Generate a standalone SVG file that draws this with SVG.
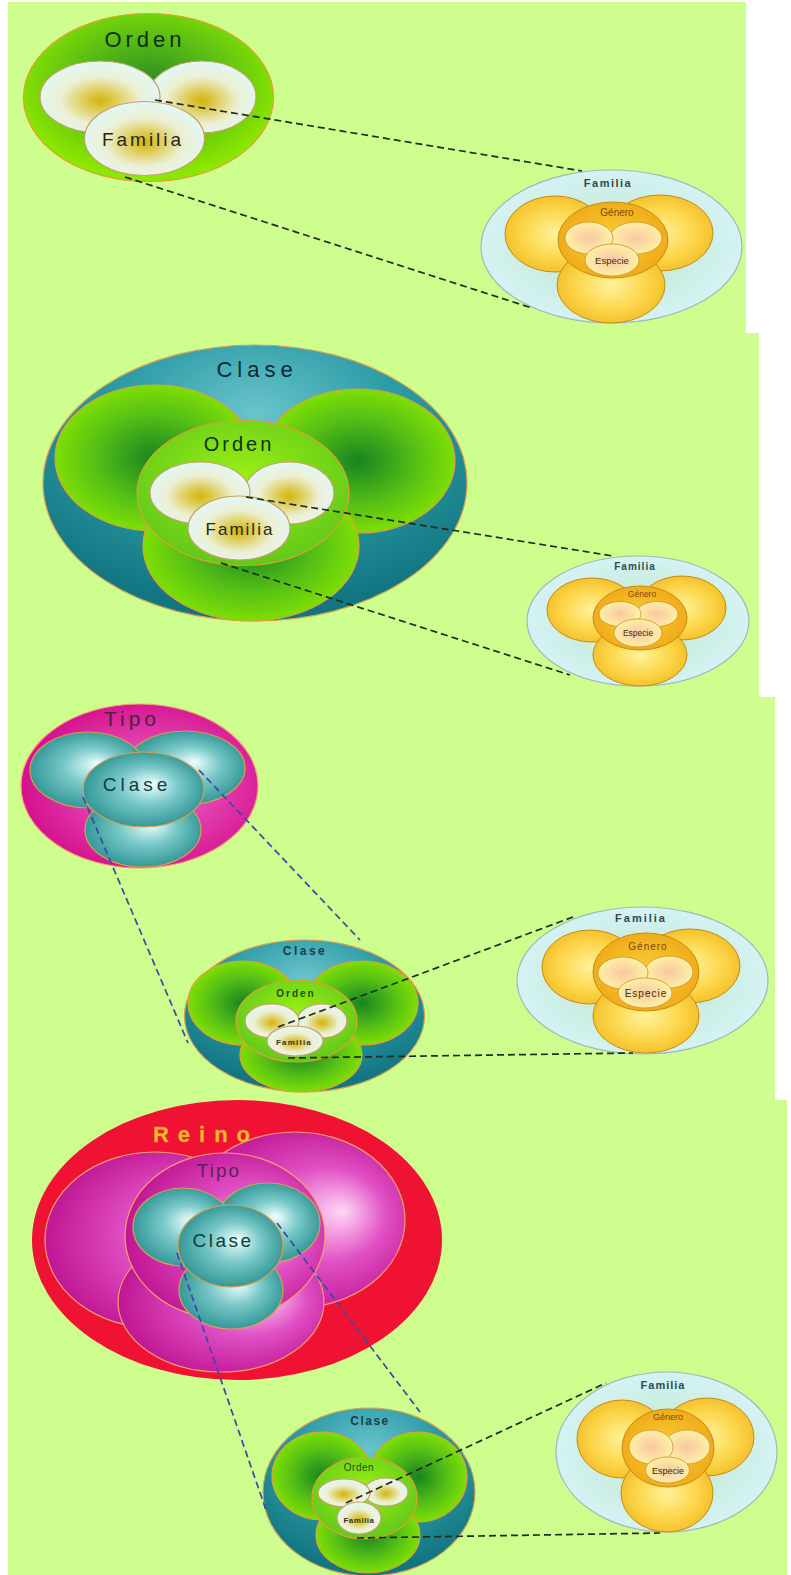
<svg xmlns="http://www.w3.org/2000/svg" width="791" height="1575" viewBox="0 0 791 1575">
<defs>
<radialGradient id="gLime" cx="50%" cy="42%" r="55%"><stop offset="0" stop-color="#2a8c22"/><stop offset="0.5" stop-color="#58bc14"/><stop offset="1" stop-color="#8ce800"/></radialGradient>
<radialGradient id="gLobe" cx="50%" cy="50%" r="55%"><stop offset="0" stop-color="#178420"/><stop offset="0.55" stop-color="#56c016"/><stop offset="1" stop-color="#88e600"/></radialGradient>
<radialGradient id="gOrden" cx="50%" cy="40%" r="60%"><stop offset="0" stop-color="#9af014"/><stop offset="1" stop-color="#62c81a"/></radialGradient>
<radialGradient id="gPale" cx="50%" cy="55%" r="55%"><stop offset="0" stop-color="#d4b410"/><stop offset="0.2" stop-color="#dcc848"/><stop offset="0.6" stop-color="#ecf0d4"/><stop offset="1" stop-color="#e2f8f8"/></radialGradient>
<radialGradient id="gTealOuter" cx="50%" cy="25%" r="70%"><stop offset="0" stop-color="#6ac4cc"/><stop offset="0.5" stop-color="#2a9aa4"/><stop offset="1" stop-color="#127682"/></radialGradient>
<radialGradient id="gTealLobe" cx="50%" cy="50%" r="55%" fx="58%" fy="42%"><stop offset="0" stop-color="#f0ffff"/><stop offset="0.45" stop-color="#78c8c8"/><stop offset="1" stop-color="#2a9090"/></radialGradient>
<radialGradient id="gMagOuter" cx="55%" cy="50%" r="55%"><stop offset="0" stop-color="#f070d0"/><stop offset="1" stop-color="#d4108c"/></radialGradient>
<radialGradient id="gMagLobe" cx="55%" cy="50%" r="60%" fx="72%" fy="45%"><stop offset="0" stop-color="#ffd6f6"/><stop offset="0.45" stop-color="#e050c4"/><stop offset="1" stop-color="#bc0e8c"/></radialGradient>
<radialGradient id="gFam" cx="50%" cy="50%" r="55%"><stop offset="0" stop-color="#bfeeb0"/><stop offset="0.6" stop-color="#cdeee4"/><stop offset="1" stop-color="#d6f4f8"/></radialGradient>
<radialGradient id="gYel" cx="50%" cy="50%" r="55%"><stop offset="0" stop-color="#fff29a"/><stop offset="0.6" stop-color="#fcd64a"/><stop offset="1" stop-color="#f2bc26"/></radialGradient>
<radialGradient id="gGen" cx="50%" cy="50%" r="55%"><stop offset="0" stop-color="#fbd038"/><stop offset="1" stop-color="#efa818"/></radialGradient>
<radialGradient id="gYin" cx="50%" cy="50%" r="55%"><stop offset="0" stop-color="#f9c8a0"/><stop offset="1" stop-color="#fff4a8"/></radialGradient>
</defs>
<style>
.bg{fill:#cdfe8e}
.t{font-family:"Liberation Sans",Arial,sans-serif;text-anchor:middle}
.gr{stroke:#e0a030;stroke-width:1.2}
.tl{stroke:#d8a050;stroke-width:1.2}
.mg{stroke:#f0a070;stroke-width:1.2}
.pale{fill:url(#gPale);stroke:#c8a060;stroke-width:1.2}
.fam{fill:url(#gFam);stroke:#a0b8bc;stroke-width:1.2}
.yel{fill:url(#gYel);stroke:#c88a10;stroke-width:1}
.gen{fill:url(#gGen);stroke:#c88a10;stroke-width:1}
.yin{fill:url(#gYin);stroke:#d09020;stroke-width:0.8}
.dk{fill:none;stroke:#1e2e1e;stroke-width:1.7;stroke-dasharray:7 4}
.bl{fill:none;stroke:#3a48a8;stroke-width:1.7;stroke-dasharray:7 4}
.lf{fill:#304858;font-weight:bold}
.lg{fill:#7a4a08}
.le{fill:#4a2a08}
</style>
<rect x="0" y="0" width="791" height="1575" fill="#ffffff"/>
<rect class="bg" x="8" y="2" width="738" height="331"/>
<rect class="bg" x="8" y="333" width="751" height="364"/>
<rect class="bg" x="8" y="697" width="767" height="403"/>
<rect class="bg" x="8" y="1100" width="779" height="475"/>

<!-- Panel 1 -->
<g id="orden1">
<ellipse cx="148.5" cy="97.5" rx="125" ry="84" fill="url(#gLime)" class="gr"/>
<ellipse cx="202" cy="97" rx="54" ry="36" class="pale"/>
<ellipse cx="100" cy="97" rx="60" ry="36" class="pale"/>
<ellipse cx="144.5" cy="138.5" rx="60" ry="37" class="pale"/>
<text class="t" x="145" y="47" font-size="22" letter-spacing="4" fill="#103010">Orden</text>
<text class="t" x="143" y="146" font-size="19" letter-spacing="3" fill="#202820">Familia</text>
</g>
<g id="familia1">
<ellipse cx="611.5" cy="246.5" rx="130.5" ry="76.5" class="fam"/>
<ellipse cx="555" cy="234" rx="50" ry="38" class="yel"/>
<ellipse cx="660" cy="233" rx="53" ry="38" class="yel"/>
<ellipse cx="611" cy="285" rx="54" ry="38" class="yel"/>
<ellipse cx="613" cy="240" rx="55" ry="38" class="gen"/>
<ellipse cx="636" cy="238" rx="26" ry="16" class="yin"/>
<ellipse cx="589" cy="238" rx="24" ry="16" class="yin"/>
<ellipse cx="612" cy="260" rx="27" ry="16" class="yin"/>
<text class="t lf" x="608" y="187" font-size="11" letter-spacing="1.5">Familia</text>
<text class="t lg" x="617" y="216" font-size="10">Género</text>
<text class="t le" x="612" y="264" font-size="9.5">Especie</text>
</g>

<!-- Panel 2 -->
<g id="clase2">
<ellipse cx="255" cy="483" rx="212" ry="138" fill="url(#gTealOuter)" class="tl"/>
<ellipse cx="358" cy="461" rx="97" ry="72" fill="url(#gLobe)" class="gr"/>
<ellipse cx="155" cy="458" rx="100" ry="73" fill="url(#gLobe)" class="gr"/>
<ellipse cx="251" cy="546" rx="108" ry="75" fill="url(#gLobe)" class="gr"/>
<ellipse cx="243" cy="493" rx="106" ry="72.5" fill="url(#gOrden)" class="gr"/>
<ellipse cx="289" cy="493" rx="45" ry="31" class="pale"/>
<ellipse cx="200" cy="493" rx="50" ry="31" class="pale"/>
<ellipse cx="239" cy="528" rx="51" ry="32" class="pale"/>
<text class="t" x="257" y="377" font-size="22" letter-spacing="5" fill="#0e2a30">Clase</text>
<text class="t" x="239" y="451" font-size="20" letter-spacing="3" fill="#103010">Orden</text>
<text class="t" x="240" y="535" font-size="17" letter-spacing="2" fill="#202820">Familia</text>
</g>
<g id="familia2">
<ellipse cx="638" cy="621" rx="111" ry="65" class="fam"/>
<ellipse cx="592" cy="610" rx="45" ry="32" class="yel"/>
<ellipse cx="682" cy="608" rx="44" ry="32" class="yel"/>
<ellipse cx="640" cy="655" rx="47" ry="31" class="yel"/>
<ellipse cx="640" cy="618" rx="47" ry="32" class="gen"/>
<ellipse cx="657" cy="614" rx="21" ry="12.5" class="yin"/>
<ellipse cx="620" cy="614" rx="21" ry="12.5" class="yin"/>
<ellipse cx="638" cy="633" rx="24" ry="14" class="yin"/>
<text class="t lf" x="635" y="570" font-size="10" letter-spacing="1">Familia</text>
<text class="t lg" x="642" y="597" font-size="8.5">Género</text>
<text class="t le" x="638" y="636" font-size="8.5">Especie</text>
</g>

<!-- Panel 3 -->
<g id="tipo3">
<ellipse cx="139.5" cy="786" rx="118.5" ry="82" fill="url(#gMagOuter)" class="mg"/>
<ellipse cx="185" cy="768" rx="60" ry="37" fill="url(#gTealLobe)" class="tl"/>
<ellipse cx="88" cy="770" rx="58" ry="38" fill="url(#gTealLobe)" class="tl"/>
<ellipse cx="143" cy="830" rx="58" ry="37" fill="url(#gTealLobe)" class="tl"/>
<ellipse cx="143.5" cy="789.5" rx="60.5" ry="37.5" fill="url(#gTealLobe)" class="tl"/>
<text class="t" x="132" y="726" font-size="21" letter-spacing="4" fill="#502040">Tipo</text>
<text class="t" x="137" y="791" font-size="19" letter-spacing="4" fill="#103c40">Clase</text>
</g>
<g id="clase3">
<ellipse cx="304.5" cy="1016" rx="120" ry="76" fill="url(#gTealOuter)" class="tl"/>
<ellipse cx="362" cy="1003" rx="56" ry="42" fill="url(#gLobe)" class="gr"/>
<ellipse cx="243" cy="1003" rx="55" ry="42" fill="url(#gLobe)" class="gr"/>
<ellipse cx="301" cy="1055" rx="61" ry="37" fill="url(#gLobe)" class="gr"/>
<ellipse cx="296.5" cy="1021" rx="60.5" ry="41" fill="url(#gOrden)" class="gr"/>
<ellipse cx="322" cy="1021" rx="25" ry="17" class="pale"/>
<ellipse cx="272" cy="1021" rx="27" ry="17" class="pale"/>
<ellipse cx="295" cy="1041" rx="28" ry="15" class="pale"/>
<text class="t" x="305" y="955" font-size="12" font-weight="bold" letter-spacing="2.5" fill="#1c3c4a">Clase</text>
<text class="t" x="296" y="997" font-size="10" font-weight="bold" letter-spacing="2" fill="#1c5010">Orden</text>
<text class="t" x="294" y="1045" font-size="8" font-weight="bold" letter-spacing="1.2" fill="#303828">Familia</text>
</g>
<g id="familia3">
<ellipse cx="642.5" cy="980.5" rx="125.5" ry="73.5" class="fam"/>
<ellipse cx="590" cy="967" rx="48" ry="37" class="yel"/>
<ellipse cx="690" cy="966" rx="50" ry="37" class="yel"/>
<ellipse cx="646" cy="1016" rx="53" ry="37" class="yel"/>
<ellipse cx="646" cy="972" rx="53" ry="39" class="gen"/>
<ellipse cx="669" cy="972" rx="24" ry="16" class="yin"/>
<ellipse cx="623" cy="973" rx="25" ry="16" class="yin"/>
<ellipse cx="645" cy="993" rx="27" ry="15" class="yin"/>
<text class="t lf" x="641" y="922" font-size="11" letter-spacing="2">Familia</text>
<text class="t lg" x="648" y="950" font-size="10" letter-spacing="1">Género</text>
<text class="t le" x="646" y="997" font-size="10" letter-spacing="1">Especie</text>
</g>

<!-- Panel 4 -->
<g id="reino4">
<ellipse cx="237" cy="1240" rx="205" ry="140" fill="#f01232"/>
<ellipse cx="295" cy="1220" rx="110" ry="88" fill="url(#gMagLobe)" class="mg"/>
<ellipse cx="155" cy="1240" rx="110" ry="88" fill="url(#gMagLobe)" class="mg"/>
<ellipse cx="221" cy="1302" rx="103" ry="70" fill="url(#gMagLobe)" class="mg"/>
<ellipse cx="225" cy="1236" rx="100" ry="83" fill="url(#gMagLobe)" class="mg"/>
<ellipse cx="268" cy="1223" rx="52" ry="40" fill="url(#gTealLobe)" class="tl"/>
<ellipse cx="183" cy="1227" rx="50" ry="39" fill="url(#gTealLobe)" class="tl"/>
<ellipse cx="231" cy="1290" rx="52" ry="39" fill="url(#gTealLobe)" class="tl"/>
<ellipse cx="230.5" cy="1246" rx="52.5" ry="41" fill="url(#gTealLobe)" class="tl"/>
<text class="t" x="206" y="1142" font-size="22" font-weight="bold" letter-spacing="9" fill="#f8bc30" stroke="#e09020" stroke-width="0.4">Reino</text>
<text class="t" x="219" y="1177" font-size="19" letter-spacing="2" fill="#602060">Tipo</text>
<text class="t" x="223" y="1247" font-size="19" letter-spacing="2.5" fill="#103c40">Clase</text>
</g>
<g id="clase4">
<ellipse cx="369" cy="1492" rx="106" ry="84" fill="url(#gTealOuter)" class="tl"/>
<ellipse cx="418" cy="1477" rx="49" ry="45" fill="url(#gLobe)" class="gr"/>
<ellipse cx="322" cy="1476" rx="50" ry="44" fill="url(#gLobe)" class="gr"/>
<ellipse cx="368" cy="1535" rx="52" ry="38" fill="url(#gLobe)" class="gr"/>
<ellipse cx="364.5" cy="1498" rx="52.5" ry="41" fill="url(#gOrden)" class="gr"/>
<ellipse cx="386" cy="1492" rx="22" ry="14" class="pale"/>
<ellipse cx="344" cy="1493" rx="26" ry="14" class="pale"/>
<ellipse cx="359" cy="1518" rx="22" ry="16" class="pale"/>
<text class="t" x="370" y="1425" font-size="12" font-weight="bold" letter-spacing="1.5" fill="#1c3c4a">Clase</text>
<text class="t" x="359" y="1471" font-size="10" letter-spacing="0.5" fill="#1c5010">Orden</text>
<text class="t" x="359" y="1523" font-size="8" font-weight="bold" letter-spacing="0.5" fill="#303828">Familia</text>
</g>
<g id="familia4">
<ellipse cx="666.5" cy="1452" rx="110.5" ry="80" class="fam"/>
<ellipse cx="622" cy="1439" rx="45" ry="39" class="yel"/>
<ellipse cx="707" cy="1437" rx="47" ry="39" class="yel"/>
<ellipse cx="667" cy="1493" rx="46" ry="39" class="yel"/>
<ellipse cx="668" cy="1448" rx="46" ry="39" class="gen"/>
<ellipse cx="687" cy="1447" rx="23" ry="17" class="yin"/>
<ellipse cx="651" cy="1447" rx="22" ry="17" class="yin"/>
<ellipse cx="667.5" cy="1470" rx="22" ry="13" class="yin"/>
<text class="t lf" x="663" y="1389" font-size="11" letter-spacing="1">Familia</text>
<text class="t lg" x="668" y="1420" font-size="9">Género</text>
<text class="t le" x="668" y="1474" font-size="9">Especie</text>
</g>

<g id="connectors">
<path class="dk" d="M155,100 L582,171"/>
<path class="dk" d="M125,177 L532,308"/>
<path class="dk" d="M246,497 L613,556"/>
<path class="dk" d="M221,563 L570,675"/>
<path class="bl" d="M199,770 L360,940"/>
<path class="bl" d="M83,797 L188,1043"/>
<path class="dk" d="M278,1027 L573,917"/>
<path class="dk" d="M288,1058 L633,1053"/>
<path class="bl" d="M277,1223 L420,1412"/>
<path class="bl" d="M177,1253 L266,1510"/>
<path class="dk" d="M346,1503 L606,1383"/>
<path class="dk" d="M357,1538 L660,1533"/>
</g>
</svg>
